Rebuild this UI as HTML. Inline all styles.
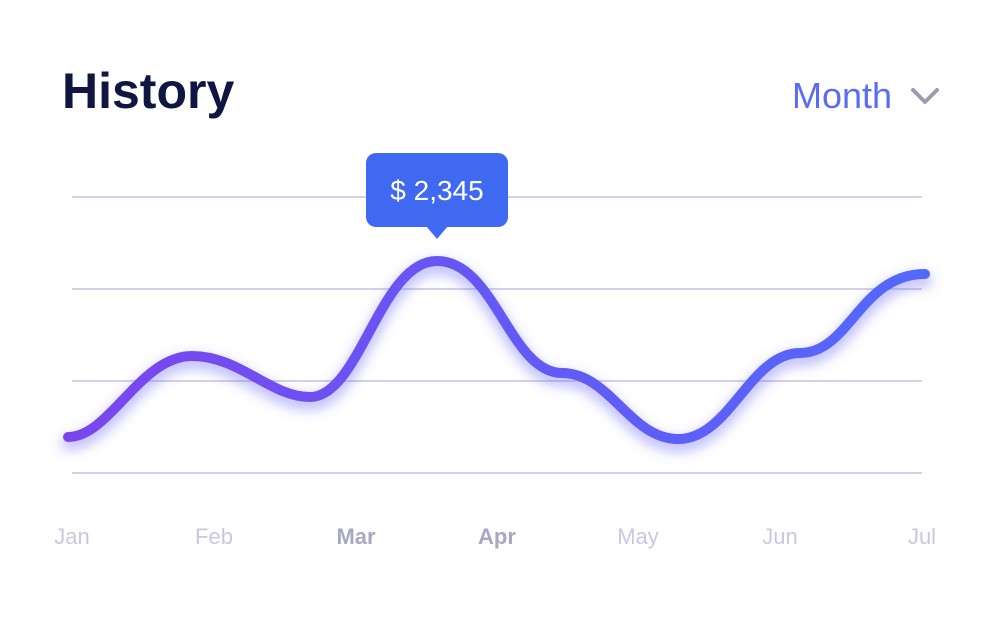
<!DOCTYPE html>
<html><head><meta charset="utf-8"><style>
html,body{margin:0;padding:0;background:#fff;}
body{width:1000px;height:622px;overflow:hidden;position:relative;font-family:"Liberation Sans",sans-serif;}
</style></head><body>
<svg width="1000" height="622" viewBox="0 0 1000 622" xmlns="http://www.w3.org/2000/svg" style="position:absolute;left:0;top:0">
<defs>
<linearGradient id="g" x1="68" y1="0" x2="925" y2="0" gradientUnits="userSpaceOnUse">
<stop offset="0" stop-color="#7b45ee"/><stop offset="0.5" stop-color="#6558f5"/><stop offset="1" stop-color="#5368fb"/>
</linearGradient>
<filter id="sh" x="-10%" y="-30%" width="120%" height="160%"><feGaussianBlur stdDeviation="6"/></filter>
</defs>
<text x="62" y="108" font-size="50" font-weight="bold" fill="#0f1642" font-family="Liberation Sans, sans-serif">History</text>
<text x="792" y="108" font-size="36" fill="#5a6cf6" font-family="Liberation Sans, sans-serif">Month</text>
<polyline points="913,90 925,102 937,90" fill="none" stroke="#9a9db0" stroke-width="4" stroke-linecap="round" stroke-linejoin="round"/>
<g stroke="#d3d1e8" stroke-width="2">
<line x1="72" y1="197" x2="922" y2="197"/><line x1="72" y1="289" x2="922" y2="289"/>
<line x1="72" y1="381" x2="922" y2="381"/><line x1="72" y1="473" x2="922" y2="473"/>
</g>
<path d="M68,437 C110,437 140,356 192,356 C240,356 270,397 310,397 C360,397 380,261 437,261 C495,261 510,373 562,373 C610,373 630,439 678,439 C730,439 750,353 800,353 C850,353 860,274 925,274" fill="none" stroke="#6f6cff" stroke-opacity="0.45" stroke-width="14" stroke-linecap="round" filter="url(#sh)" transform="translate(0,6)"/>
<path d="M68,437 C110,437 140,356 192,356 C240,356 270,397 310,397 C360,397 380,261 437,261 C495,261 510,373 562,373 C610,373 630,439 678,439 C730,439 750,353 800,353 C850,353 860,274 925,274" fill="none" stroke="url(#g)" stroke-width="10" stroke-linecap="round"/>
<rect x="366" y="153" width="142" height="74" rx="10" fill="#3f69f0"/>
<polygon points="426,226 448,226 437,239" fill="#3f69f0"/>
<text x="437" y="200" font-size="28" fill="#fff" text-anchor="middle" font-family="Liberation Sans, sans-serif">$ 2,345</text>
<g font-size="22" text-anchor="middle" font-family="Liberation Sans, sans-serif" fill="#c9c8e2">
<text x="72" y="544">Jan</text><text x="214" y="544">Feb</text>
<text x="356" y="544" font-weight="bold" fill="#a8a7c4">Mar</text>
<text x="497" y="544" font-weight="bold" fill="#a8a7c4">Apr</text>
<text x="638" y="544">May</text><text x="780" y="544">Jun</text><text x="922" y="544">Jul</text>
</g>
</svg>
</body></html>
